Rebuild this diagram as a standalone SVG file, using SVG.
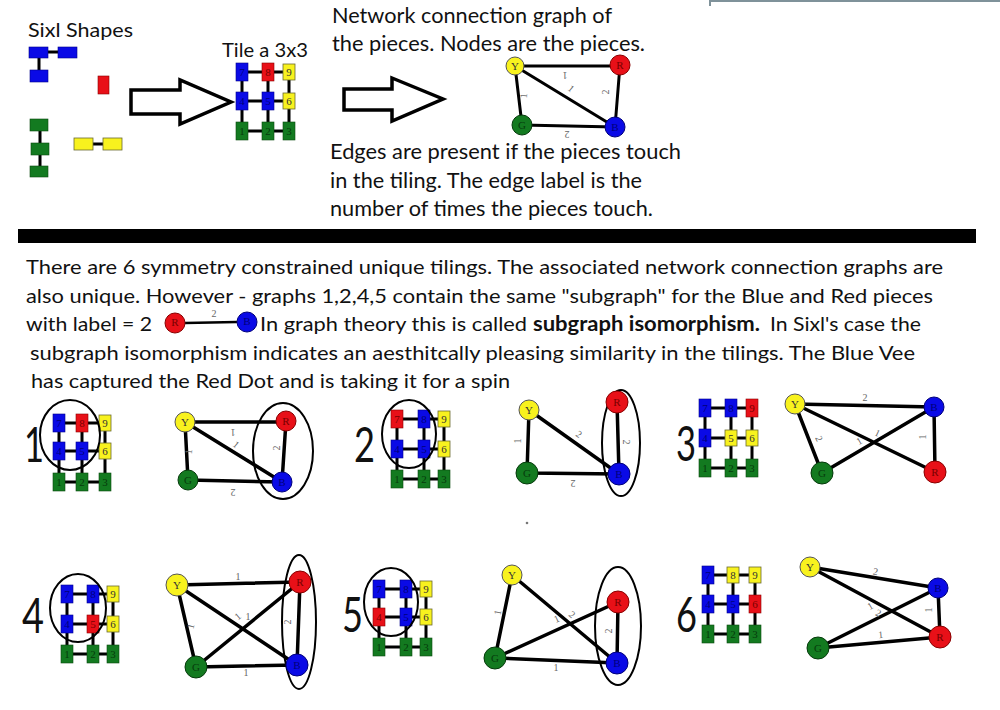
<svg xmlns="http://www.w3.org/2000/svg" width="1000" height="710" viewBox="0 0 1000 710">
<style>
.t{font-family:Lato,"Open Sans",sans-serif;fill:#111}
.big{font-family:Lato,"Open Sans",sans-serif;font-size:48px;fill:#111}
.sb{fill:#0a0ae6;stroke:#00008a;stroke-width:.6}
.sr{fill:#e81018;stroke:#8a0000;stroke-width:.6}
.sy{fill:#f8f21e;stroke:#6a6a30;stroke-width:.8}
.sg{fill:#137a20;stroke:#0a4a10;stroke-width:.6}
.grid{stroke:#000;stroke-width:3;fill:none}
.num{font-family:"Liberation Serif",serif;font-size:11px;text-anchor:middle}
.nb{fill:#00007a}.nr{fill:#700}.ny{fill:#333}.ng{fill:#063a0c}
.edge{stroke:#000;stroke-width:3.5;fill:none}
.ell{stroke:#000;stroke-width:2;fill:none}
.el{font-family:"Liberation Serif",serif;font-size:10px;fill:#666;text-anchor:middle}
.nl{font-family:"Liberation Serif",serif;font-size:11px;text-anchor:middle}
.cy{fill:#f8f21e;stroke:#555;stroke-width:1}
.cr{fill:#e81018;stroke:#800;stroke-width:1}
.cg{fill:#137a20;stroke:#063a0c;stroke-width:1}
.cb{fill:#0a0ae6;stroke:#00007a;stroke-width:1}
.arrow{fill:#fff;stroke:#000;stroke-width:3.5;stroke-linejoin:miter}
</style>
<rect width="1000" height="710" fill="#fff"/>
<path d="M710 1H1000M710 0V6" stroke="#7f929a" stroke-width="2" fill="none"/>

<!-- Top-left shapes -->
<g id="sixl-shapes">
<text class="t" x="28" y="37" font-size="20" textLength="105" lengthAdjust="spacingAndGlyphs">Sixl Shapes</text>
<path d="M48 52H58M39 58V70" class="grid"/>
<rect class="sb" x="29" y="47" width="19" height="11"/>
<rect class="sb" x="58" y="47" width="19" height="11"/>
<rect class="sb" x="30" y="70" width="18" height="12"/>
<rect class="sr" x="98" y="76" width="11" height="18"/>
<path d="M40 131V143M40 155V166M93 144H103" class="grid"/>
<rect class="sg" x="30" y="119" width="18" height="12"/>
<rect class="sg" x="31" y="143" width="18" height="12"/>
<rect class="sg" x="30" y="166" width="18" height="11"/>
<rect class="sy" x="74" y="138" width="19" height="12"/>
<rect class="sy" x="103" y="138" width="19" height="12"/>
</g>
<g id="arrow1"><polygon class="arrow" points="131,90 180,90 180,80 231,102 180,124 180,114 131,114"/></g>

<g id="tile-top">
<text class="t" x="222" y="57" font-size="20" textLength="86" lengthAdjust="spacingAndGlyphs">Tile a 3x3</text>
<path class="grid" d="M242 72H289M242 101H289M242 131H289M242 72V131M268 72V131M289 72V131"/>
<rect class="sb" x="236" y="63" width="12" height="18"/><text class="num nb" x="242" y="76">7</text>
<rect class="sr" x="262" y="63" width="12" height="18"/><text class="num nr" x="268" y="76">8</text>
<rect class="sy" x="283" y="64" width="12" height="16"/><text class="num ny" x="289" y="76">9</text>
<rect class="sb" x="236" y="92" width="12" height="18"/><text class="num nb" x="242" y="105">4</text>
<rect class="sb" x="262" y="92" width="12" height="18"/><text class="num nb" x="268" y="105">5</text>
<rect class="sy" x="283" y="93" width="12" height="16"/><text class="num ny" x="289" y="105">6</text>
<rect class="sg" x="236" y="122" width="12" height="18"/><text class="num ng" x="242" y="135">1</text>
<rect class="sg" x="262" y="122" width="12" height="18"/><text class="num ng" x="268" y="135">2</text>
<rect class="sg" x="283" y="122" width="12" height="18"/><text class="num ng" x="289" y="135">3</text>
</g>
<g id="arrow2"><polygon class="arrow" points="344,89 392,89 392,78 443,99 392,121 392,110 344,110"/></g>

<g id="top-text">
<text class="t" x="332" y="23" font-size="21" textLength="280" lengthAdjust="spacingAndGlyphs">Network connection graph of</text>
<text class="t" x="332" y="51" font-size="21" textLength="313" lengthAdjust="spacingAndGlyphs">the pieces. Nodes are the pieces.</text>
<text class="t" x="330" y="159" font-size="21" textLength="351" lengthAdjust="spacingAndGlyphs">Edges are present if the pieces touch</text>
<text class="t" x="330" y="188" font-size="21" textLength="312" lengthAdjust="spacingAndGlyphs">in the tiling. The edge label is the</text>
<text class="t" x="330" y="216" font-size="21" textLength="323" lengthAdjust="spacingAndGlyphs">number of times the pieces touch.</text>
</g>

<!-- Top graph -->
<g id="top-graph-edges">
<path d="M515 66H620M515 66L522 125M515 66L615 127M620 65L615 127M522 125L615 127" stroke="#000" stroke-width="3" fill="none"/>
<text class="el" transform="translate(565,72) rotate(180)">1</text>
<text class="el" transform="translate(527,96) rotate(-85)">1</text>
<text class="el" transform="translate(569,91) rotate(40)">1</text>
<text class="el" transform="translate(609,92) rotate(-90)">2</text>
<text class="el" transform="translate(567,131) rotate(180)">2</text>
</g>
<g id="top-Y"><circle class="cy" cx="515" cy="66" r="9"/><text class="nl ny" x="515" y="70" font-size="9">Y</text></g>
<g id="top-R"><circle class="cr" cx="620" cy="65" r="10"/><text class="nl nr" x="620" y="69" font-size="9">R</text></g>
<g id="top-G"><circle class="cg" cx="522" cy="125" r="10"/><text class="nl ng" x="522" y="129" font-size="9">G</text></g>
<g id="top-B"><circle class="cb" cx="615" cy="127" r="10"/><text class="nl nb" x="615" y="131" font-size="9">B</text></g>

<rect id="divider" x="18" y="229" width="958" height="14" fill="#000"/>

<g id="paragraph">
<text class="t" x="26" y="274" font-size="20" textLength="917" lengthAdjust="spacingAndGlyphs">There are 6 symmetry constrained unique tilings. The associated network connection graphs are</text>
<text class="t" x="26" y="303" font-size="20" textLength="907" lengthAdjust="spacingAndGlyphs">also unique. However - graphs 1,2,4,5 contain the same "subgraph" for the Blue and Red pieces</text>
<text class="t" x="26" y="331" font-size="20" textLength="126" lengthAdjust="spacingAndGlyphs">with label = 2</text>
<text class="t" x="260" y="331" font-size="20" textLength="267" lengthAdjust="spacingAndGlyphs">In graph theory this is called</text>
<text class="t" x="533" y="331" font-size="20" font-weight="bold" textLength="227" lengthAdjust="spacingAndGlyphs">subgraph isomorphism.</text>
<text class="t" x="770" y="331" font-size="20" textLength="151" lengthAdjust="spacingAndGlyphs">In Sixl's case the</text>
<text class="t" x="30" y="360" font-size="20" textLength="885" lengthAdjust="spacingAndGlyphs">subgraph isomorphism indicates an aesthitcally pleasing similarity in the tilings. The Blue Vee</text>
<text class="t" x="31" y="388" font-size="20" textLength="479" lengthAdjust="spacingAndGlyphs">has captured the Red Dot and is taking it for a spin</text>
</g>
<g id="inline-subgraph">
<path d="M185 323L237 322" stroke="#000" stroke-width="2.5"/>
<text class="el" x="214" y="317" font-size="9">2</text>
<circle class="cr" cx="175" cy="323" r="10"/><text class="nl nr" x="175" y="326" font-size="7">R</text>
<circle class="cb" cx="247" cy="322" r="10"/><text class="nl nb" x="247" y="325" font-size="7">B</text>
</g>

<!-- Panel 1 -->
<g id="tile-1">
<text class="big" x="24" y="462" textLength="20" lengthAdjust="spacingAndGlyphs">1</text>
<path class="grid" d="M59 423H105M59 451H105M59 482H105M59 423V482M82 423V482M105 423V482"/>
<rect class="sb" x="53" y="414" width="12" height="18"/><text class="num nb" x="59" y="427">7</text>
<rect class="sr" x="76" y="414" width="12" height="18"/><text class="num nr" x="82" y="427">8</text>
<rect class="sy" x="99" y="415" width="12" height="16"/><text class="num ny" x="105" y="427">9</text>
<rect class="sb" x="53" y="442" width="12" height="18"/><text class="num nb" x="59" y="455">4</text>
<rect class="sb" x="76" y="442" width="12" height="18"/><text class="num nb" x="82" y="455">5</text>
<rect class="sy" x="99" y="443" width="12" height="16"/><text class="num ny" x="105" y="455">6</text>
<rect class="sg" x="53" y="473" width="12" height="18"/><text class="num ng" x="59" y="486">1</text>
<rect class="sg" x="76" y="473" width="12" height="18"/><text class="num ng" x="82" y="486">2</text>
<rect class="sg" x="99" y="473" width="12" height="18"/><text class="num ng" x="105" y="486">3</text>
<ellipse class="ell" cx="70" cy="435" rx="30" ry="35"/>
</g>
<g id="graph-1-edges">
<path class="edge" d="M185 422H286M185 422L188 480M185 422L282 482M286 421L282 482M188 480L282 482"/>
<text class="el" transform="translate(233,429) rotate(180)">1</text>
<text class="el" transform="translate(234,447) rotate(40)">1</text>
<text class="el" transform="translate(192,452) rotate(-85)">1</text>
<text class="el" transform="translate(280,448) rotate(-90)">2</text>
<text class="el" transform="translate(233,489) rotate(180)">2</text>
<ellipse class="ell" cx="283" cy="451" rx="30" ry="48"/>
</g>
<g id="g1-Y"><circle class="cy" cx="185" cy="422" r="10"/><text class="nl ny" x="185" y="426">Y</text></g>
<g id="g1-R"><circle class="cr" cx="286" cy="421" r="10"/><text class="nl nr" x="286" y="425">R</text></g>
<g id="g1-G"><circle class="cg" cx="188" cy="480" r="10"/><text class="nl ng" x="188" y="484">G</text></g>
<g id="g1-B"><circle class="cb" cx="282" cy="482" r="10"/><text class="nl nb" x="282" y="486">B</text></g>

<!-- Panel 2 -->
<g id="tile-2">
<text class="big" x="354" y="462" textLength="21" lengthAdjust="spacingAndGlyphs">2</text>
<path class="grid" d="M397 419H444M397 449H444M397 479H444M397 419V479M424 419V479M444 419V479"/>
<rect class="sr" x="391" y="410" width="12" height="18"/><text class="num nr" x="397" y="423">7</text>
<rect class="sb" x="418" y="410" width="12" height="18"/><text class="num nb" x="424" y="423">8</text>
<rect class="sy" x="438" y="411" width="12" height="16"/><text class="num ny" x="444" y="423">9</text>
<rect class="sb" x="391" y="440" width="12" height="18"/><text class="num nb" x="397" y="453">4</text>
<rect class="sb" x="418" y="440" width="12" height="18"/><text class="num nb" x="424" y="453">5</text>
<rect class="sy" x="438" y="441" width="12" height="16"/><text class="num ny" x="444" y="453">6</text>
<rect class="sg" x="391" y="470" width="12" height="18"/><text class="num ng" x="397" y="483">1</text>
<rect class="sg" x="418" y="470" width="12" height="18"/><text class="num ng" x="424" y="483">2</text>
<rect class="sg" x="438" y="470" width="12" height="18"/><text class="num ng" x="444" y="483">3</text>
<ellipse class="ell" cx="409" cy="434" rx="27" ry="34"/>
</g>
<g id="graph-2-edges">
<path class="edge" d="M529 410L527 473M529 410L619 474M617 402L619 474M527 473L619 474"/>
<text class="el" transform="translate(521,441) rotate(-90)">1</text>
<text class="el" transform="translate(577,437) rotate(35)">2</text>
<text class="el" transform="translate(623,442) rotate(90)">2</text>
<text class="el" transform="translate(573,480) rotate(180)">2</text>
<ellipse class="ell" cx="621" cy="443" rx="19" ry="53"/>
</g>
<g id="g2-Y"><circle class="cy" cx="529" cy="410" r="10"/><text class="nl ny" x="529" y="414">Y</text></g>
<g id="g2-R"><circle class="cr" cx="617" cy="402" r="11"/><text class="nl nr" x="617" y="406">R</text></g>
<g id="g2-G"><circle class="cg" cx="527" cy="473" r="11"/><text class="nl ng" x="527" y="477">G</text></g>
<g id="g2-B"><circle class="cb" cx="619" cy="474" r="11"/><text class="nl nb" x="619" y="478">B</text></g>

<!-- Panel 3 -->
<g id="tile-3">
<text class="big" x="676" y="461" textLength="20" lengthAdjust="spacingAndGlyphs">3</text>
<path class="grid" d="M705 408H752M705 438H752M705 468H752M705 408V468M731 408V468M752 408V468"/>
<rect class="sb" x="699" y="399" width="12" height="18"/><text class="num nb" x="705" y="412">7</text>
<rect class="sb" x="725" y="399" width="12" height="18"/><text class="num nb" x="731" y="412">8</text>
<rect class="sr" x="746" y="399" width="12" height="18"/><text class="num nr" x="752" y="412">9</text>
<rect class="sb" x="699" y="429" width="12" height="18"/><text class="num nb" x="705" y="442">4</text>
<rect class="sy" x="725" y="430" width="12" height="16"/><text class="num ny" x="731" y="442">5</text>
<rect class="sy" x="746" y="430" width="12" height="16"/><text class="num ny" x="752" y="442">6</text>
<rect class="sg" x="699" y="459" width="12" height="18"/><text class="num ng" x="705" y="472">1</text>
<rect class="sg" x="725" y="459" width="12" height="18"/><text class="num ng" x="731" y="472">2</text>
<rect class="sg" x="746" y="459" width="12" height="18"/><text class="num ng" x="752" y="472">3</text>
</g>
<g id="graph-3-edges">
<path class="edge" d="M795 404L934 407M795 404L822 473M795 404L935 472M822 473L934 407M934 407L935 472"/>
<text class="el" x="865" y="401">2</text>
<text class="el" transform="translate(816,440) rotate(65)">2</text>
<text class="el" transform="translate(876,436) rotate(25)">1</text>
<text class="el" transform="translate(861,444) rotate(-30)">1</text>
<text class="el" transform="translate(926,437) rotate(-90)">1</text>
</g>
<g id="g3-Y"><circle class="cy" cx="795" cy="404" r="10"/><text class="nl ny" x="795" y="408">Y</text></g>
<g id="g3-B"><circle class="cb" cx="934" cy="407" r="10"/><text class="nl nb" x="934" y="411">B</text></g>
<g id="g3-G"><circle class="cg" cx="822" cy="473" r="11"/><text class="nl ng" x="822" y="477">G</text></g>
<g id="g3-R"><circle class="cr" cx="935" cy="472" r="11"/><text class="nl nr" x="935" y="476">R</text></g>

<circle cx="527" cy="523" r="1.3" fill="#777"/>

<!-- Panel 4 -->
<g id="tile-4">
<text class="big" x="22" y="633" textLength="22" lengthAdjust="spacingAndGlyphs">4</text>
<path class="grid" d="M67 594H113M67 624H113M67 654H113M67 594V654M93 594V654M113 594V654"/>
<rect class="sb" x="61" y="585" width="12" height="18"/><text class="num nb" x="67" y="598">7</text>
<rect class="sb" x="87" y="585" width="12" height="18"/><text class="num nb" x="93" y="598">8</text>
<rect class="sy" x="107" y="586" width="12" height="16"/><text class="num ny" x="113" y="598">9</text>
<rect class="sb" x="61" y="615" width="12" height="18"/><text class="num nb" x="67" y="628">4</text>
<rect class="sr" x="87" y="615" width="12" height="18"/><text class="num nr" x="93" y="628">5</text>
<rect class="sy" x="107" y="616" width="12" height="16"/><text class="num ny" x="113" y="628">6</text>
<rect class="sg" x="61" y="645" width="12" height="18"/><text class="num ng" x="67" y="658">1</text>
<rect class="sg" x="87" y="645" width="12" height="18"/><text class="num ng" x="93" y="658">2</text>
<rect class="sg" x="107" y="645" width="12" height="18"/><text class="num ng" x="113" y="658">3</text>
<ellipse class="ell" cx="78" cy="608" rx="28" ry="34"/>
</g>
<g id="graph-4-edges">
<path class="edge" d="M177 585L300 582M177 585L196 667M177 585L297 665M196 667L300 582M300 582L297 665M196 667L297 665"/>
<text class="el" x="238" y="580">1</text>
<text class="el" transform="translate(194,627) rotate(-75)">1</text>
<text class="el" transform="translate(240,619) rotate(-40)">1</text>
<text class="el" x="248" y="620">1</text>
<text class="el" transform="translate(291,622) rotate(-90)">2</text>
<text class="el" x="246" y="676">1</text>
<ellipse class="ell" cx="299" cy="622" rx="17" ry="67"/>
</g>
<g id="g4-Y"><circle class="cy" cx="177" cy="585" r="11"/><text class="nl ny" x="177" y="589">Y</text></g>
<g id="g4-R"><circle class="cr" cx="300" cy="582" r="11"/><text class="nl nr" x="300" y="586">R</text></g>
<g id="g4-G"><circle class="cg" cx="196" cy="667" r="11"/><text class="nl ng" x="196" y="671">G</text></g>
<g id="g4-B"><circle class="cb" cx="297" cy="665" r="11"/><text class="nl nb" x="297" y="669">B</text></g>

<!-- Panel 5 -->
<g id="tile-5">
<text class="big" x="342" y="632" textLength="21" lengthAdjust="spacingAndGlyphs">5</text>
<path class="grid" d="M379 589H426M379 617H426M379 647H426M379 589V647M406 589V647M426 589V647"/>
<rect class="sb" x="373" y="580" width="12" height="18"/><text class="num nb" x="379" y="593">7</text>
<rect class="sb" x="400" y="580" width="12" height="18"/><text class="num nb" x="406" y="593">8</text>
<rect class="sy" x="420" y="581" width="12" height="16"/><text class="num ny" x="426" y="593">9</text>
<rect class="sr" x="373" y="608" width="12" height="18"/><text class="num nr" x="379" y="621">4</text>
<rect class="sb" x="400" y="608" width="12" height="18"/><text class="num nb" x="406" y="621">5</text>
<rect class="sy" x="420" y="609" width="12" height="16"/><text class="num ny" x="426" y="621">6</text>
<rect class="sg" x="373" y="638" width="12" height="18"/><text class="num ng" x="379" y="651">1</text>
<rect class="sg" x="400" y="638" width="12" height="18"/><text class="num ng" x="406" y="651">2</text>
<rect class="sg" x="420" y="638" width="12" height="18"/><text class="num ng" x="426" y="651">3</text>
<ellipse class="ell" cx="391" cy="602" rx="27" ry="34"/>
</g>
<g id="graph-5-edges">
<path class="edge" d="M512 575L495 658M512 575L617 663M495 658L618 602M618 602L617 663M495 658L617 663"/>
<text class="el" transform="translate(501,613) rotate(-80)">1</text>
<text class="el" transform="translate(558,622) rotate(-25)">1</text>
<text class="el" transform="translate(570,617) rotate(40)">2</text>
<text class="el" transform="translate(612,631) rotate(-90)">2</text>
<text class="el" x="556" y="671">1</text>
<ellipse class="ell" cx="618" cy="626" rx="23" ry="59"/>
</g>
<g id="g5-Y"><circle class="cy" cx="512" cy="575" r="10"/><text class="nl ny" x="512" y="579">Y</text></g>
<g id="g5-R"><circle class="cr" cx="618" cy="602" r="11"/><text class="nl nr" x="618" y="606">R</text></g>
<g id="g5-G"><circle class="cg" cx="495" cy="658" r="11"/><text class="nl ng" x="495" y="662">G</text></g>
<g id="g5-B"><circle class="cb" cx="617" cy="663" r="11"/><text class="nl nb" x="617" y="667">B</text></g>

<!-- Panel 6 -->
<g id="tile-6">
<text class="big" x="676" y="632" textLength="21" lengthAdjust="spacingAndGlyphs">6</text>
<path class="grid" d="M708 575H755M708 604H755M708 634H755M708 575V634M733 575V634M755 575V634"/>
<rect class="sb" x="702" y="566" width="12" height="18"/><text class="num nb" x="708" y="579">7</text>
<rect class="sy" x="727" y="567" width="12" height="16"/><text class="num ny" x="733" y="579">8</text>
<rect class="sy" x="749" y="567" width="12" height="16"/><text class="num ny" x="755" y="579">9</text>
<rect class="sb" x="702" y="595" width="12" height="18"/><text class="num nb" x="708" y="608">4</text>
<rect class="sb" x="727" y="595" width="12" height="18"/><text class="num nb" x="733" y="608">5</text>
<rect class="sr" x="749" y="595" width="12" height="18"/><text class="num nr" x="755" y="608">6</text>
<rect class="sg" x="702" y="625" width="12" height="18"/><text class="num ng" x="708" y="638">1</text>
<rect class="sg" x="727" y="625" width="12" height="18"/><text class="num ng" x="733" y="638">2</text>
<rect class="sg" x="749" y="625" width="12" height="18"/><text class="num ng" x="755" y="638">3</text>
</g>
<g id="graph-6-edges">
<path class="edge" d="M810 567L938 588M810 567L940 637M818 648L938 588M938 588L940 637M818 648L940 637"/>
<text class="el" transform="translate(875,575) rotate(10)">2</text>
<text class="el" transform="translate(872,609) rotate(-30)">1</text>
<text class="el" transform="translate(877,616) rotate(25)">2</text>
<text class="el" transform="translate(932,610) rotate(-90)">1</text>
<text class="el" transform="translate(881,638) rotate(-5)">1</text>
</g>
<g id="g6-Y"><circle class="cy" cx="810" cy="567" r="10"/><text class="nl ny" x="810" y="571">Y</text></g>
<g id="g6-B"><circle class="cb" cx="938" cy="588" r="10"/><text class="nl nb" x="938" y="592">B</text></g>
<g id="g6-G"><circle class="cg" cx="818" cy="648" r="11"/><text class="nl ng" x="818" y="652">G</text></g>
<g id="g6-R"><circle class="cr" cx="940" cy="637" r="11"/><text class="nl nr" x="940" y="641">R</text></g>
</svg>
